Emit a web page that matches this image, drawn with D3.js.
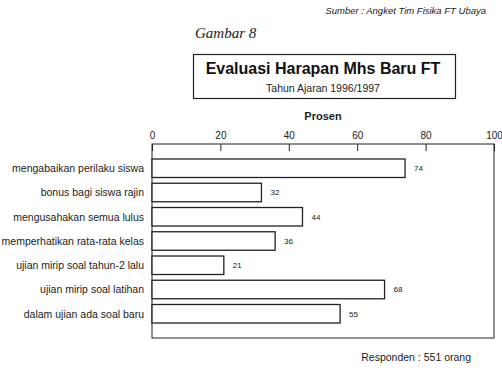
<!DOCTYPE html>
<html>
<head>
<meta charset="utf-8">
<script src="https://cdn.jsdelivr.net/npm/d3@7"></script>
<style>
  body { margin: 0; background: #fff; }
  svg { display: block; font-family: "Liberation Sans", Arial, sans-serif; }
</style>
</head>
<body>
<svg id="chart" width="502" height="368"></svg>
<script>
const categories = [
  'mengabaikan perilaku siswa',
  'bonus bagi siswa rajin',
  'mengusahakan semua lulus',
  'memperhatikan rata-rata kelas',
  'ujian mirip soal tahun-2 lalu',
  'ujian mirip soal latihan',
  'dalam ujian ada soal baru'
];
const values = [74, 32, 44, 36, 21, 68, 55];
const xTicks = [0, 20, 40, 60, 80, 100];

const svg = d3.select('#chart');
const ink = '#222';

const x = d3.scaleLinear().domain([0, 100]).range([152, 494]);
const y = d3.scalePoint().domain(categories).range([144, 338]).padding(1);
const barH = 18.5;

// header texts
svg.append('text')
  .attr('x', 486).attr('y', 14)
  .attr('text-anchor', 'end')
  .style('font-size', '9.5px').style('font-style', 'italic')
  .attr('fill', ink)
  .text('Sumber : Angket Tim Fisika FT Ubaya');

svg.append('text')
  .attr('x', 195).attr('y', 38)
  .style('font-family', '"Liberation Serif", "Times New Roman", serif')
  .style('font-size', '15px').style('font-style', 'italic')
  .attr('fill', ink)
  .text('Gambar 8');

// title box
svg.append('rect')
  .attr('x', 193.5).attr('y', 54.5)
  .attr('width', 262).attr('height', 44)
  .attr('fill', 'none').attr('stroke', ink).attr('stroke-width', 1.2);

svg.append('text')
  .attr('x', 323).attr('y', 74)
  .attr('text-anchor', 'middle')
  .style('font-size', '16px').style('font-weight', 'bold')
  .attr('fill', '#111')
  .text('Evaluasi Harapan Mhs Baru FT');

svg.append('text')
  .attr('x', 323).attr('y', 92)
  .attr('text-anchor', 'middle')
  .style('font-size', '10.5px')
  .attr('fill', ink)
  .text('Tahun Ajaran 1996/1997');

svg.append('text')
  .attr('x', 323).attr('y', 120)
  .attr('text-anchor', 'middle')
  .style('font-size', '11px').style('font-weight', 'bold')
  .attr('fill', ink)
  .text('Prosen');

// plot frame
svg.append('rect')
  .attr('x', 152).attr('y', 144)
  .attr('width', 342).attr('height', 194)
  .attr('fill', 'none').attr('stroke', ink).attr('stroke-width', 1);

// axes
const xAxisG = svg.append('g')
  .attr('transform', 'translate(0,144)')
  .call(d3.axisTop(x).tickValues(xTicks).tickSizeInner(-7).tickSizeOuter(0).tickPadding(5));
xAxisG.select('.domain').remove();
xAxisG.selectAll('line').attr('stroke', ink);
xAxisG.selectAll('text').style('font-size', '10px').attr('font-family', null).attr('fill', ink);

const yAxisG = svg.append('g')
  .attr('transform', 'translate(152,0)')
  .call(d3.axisLeft(y).tickSizeInner(-7).tickSizeOuter(0).tickPadding(8));
yAxisG.select('.domain').remove();
yAxisG.selectAll('line').attr('stroke', ink);
yAxisG.selectAll('text').style('font-size', '10.5px').attr('font-family', null).attr('fill', ink);

// bars
svg.append('g')
  .selectAll('rect')
  .data(values)
  .join('rect')
  .attr('x', x(0))
  .attr('y', (d, i) => y(categories[i]) - barH / 2)
  .attr('width', d => x(d) - x(0))
  .attr('height', barH)
  .attr('fill', '#fff')
  .attr('stroke', ink)
  .attr('stroke-width', 1.3);

svg.append('g')
  .selectAll('text')
  .data(values)
  .join('text')
  .attr('x', d => x(d) + 9)
  .attr('y', (d, i) => y(categories[i]))
  .attr('dy', '0.35em')
  .style('font-size', '8px')
  .attr('fill', ink)
  .text(d => d);

svg.append('text')
  .attr('x', 471).attr('y', 361)
  .attr('text-anchor', 'end')
  .style('font-size', '10.5px')
  .attr('fill', ink)
  .text('Responden : 551 orang');
</script>
</body>
</html>
